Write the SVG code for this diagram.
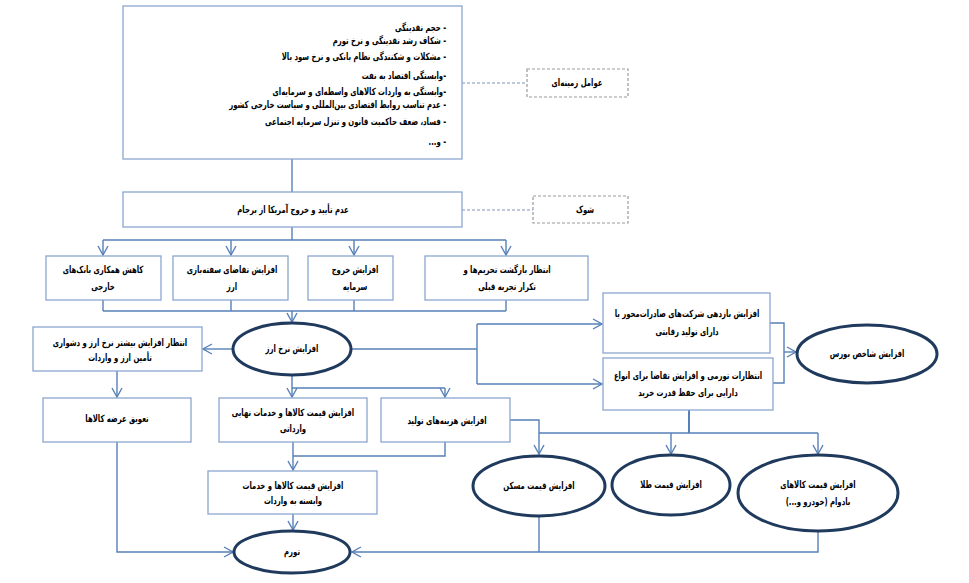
<svg xmlns="http://www.w3.org/2000/svg" width="969" height="583" viewBox="0 0 969 583">
<style>
.box{fill:#fff;stroke:#8aa6cf;stroke-width:1.3}
.dbox{fill:#fff;stroke:#9a9a9a;stroke-width:1.2;stroke-dasharray:3 2}
.ell{fill:#fff;stroke:#1f3a5c;stroke-width:3}
.c{fill:none;stroke:#5680b8;stroke-width:1.4}
.dc{fill:none;stroke:#7f96b8;stroke-width:1.1;stroke-dasharray:3 2}
text{font-family:"DejaVu Sans",sans-serif;font-size:10px;font-weight:bold;fill:#000;direction:rtl}
.m{text-anchor:middle}
.r{text-anchor:start}
</style>
<defs>
<marker id="a" viewBox="0 0 12 12" refX="11" refY="6" markerWidth="12" markerHeight="12" markerUnits="userSpaceOnUse" orient="auto">
<polyline points="2,1 11,6 2,11" fill="none" stroke="#5680b8" stroke-width="1.4"/>
</marker>
</defs>
<rect width="969" height="583" fill="#fff"/>
<g id="connectors">
<line class="c" x1="292" y1="159" x2="292" y2="192"/>
<line class="dc" x1="462" y1="83" x2="527" y2="83"/>
<line class="dc" x1="462" y1="210" x2="533" y2="210"/>
<line class="c" x1="292" y1="227" x2="292" y2="240"/>
<line class="c" x1="103" y1="240" x2="506" y2="240"/>
<line class="c" x1="103" y1="240" x2="103" y2="255" marker-end="url(#a)"/>
<line class="c" x1="231" y1="240" x2="231" y2="255" marker-end="url(#a)"/>
<line class="c" x1="354" y1="240" x2="354" y2="255" marker-end="url(#a)"/>
<line class="c" x1="506" y1="240" x2="506" y2="255" marker-end="url(#a)"/>
<line class="c" x1="103" y1="300" x2="103" y2="311"/>
<line class="c" x1="231" y1="300" x2="231" y2="311"/>
<line class="c" x1="354" y1="300" x2="354" y2="311"/>
<line class="c" x1="506" y1="300" x2="506" y2="311"/>
<line class="c" x1="103" y1="311" x2="506" y2="311"/>
<line class="c" x1="292" y1="311" x2="292" y2="322" marker-end="url(#a)"/>
<line class="c" x1="233" y1="349" x2="203" y2="349" marker-end="url(#a)"/>
<line class="c" x1="117" y1="371" x2="117" y2="397" marker-end="url(#a)"/>
<line class="c" x1="292" y1="375" x2="292" y2="397" marker-end="url(#a)"/>
<line class="c" x1="292" y1="388" x2="445" y2="388"/>
<line class="c" x1="445" y1="388" x2="445" y2="397" marker-end="url(#a)"/>
<polyline class="c" points="351,349 477,349"/>
<polyline class="c" points="477,324 477,384"/>
<line class="c" x1="477" y1="324" x2="602" y2="324" marker-end="url(#a)"/>
<line class="c" x1="477" y1="384" x2="602" y2="384" marker-end="url(#a)"/>
<polyline class="c" points="770,323 784,323 784,383 773,383"/>
<line class="c" x1="784" y1="352" x2="796" y2="352" marker-end="url(#a)"/>
<polyline class="c" points="510,420 539,420 539,433"/>
<line class="c" x1="689" y1="410" x2="689" y2="433" style="stroke-width:2"/>
<line class="c" x1="539" y1="433" x2="818" y2="433"/>
<line class="c" x1="539" y1="433" x2="539" y2="454" marker-end="url(#a)"/>
<line class="c" x1="671" y1="433" x2="671" y2="454" marker-end="url(#a)"/>
<line class="c" x1="818" y1="433" x2="818" y2="454" marker-end="url(#a)"/>
<line class="c" x1="293" y1="442" x2="293" y2="470" marker-end="url(#a)"/>
<polyline class="c" points="445,442 445,456 293,456"/>
<line class="c" x1="293" y1="514" x2="293" y2="530" marker-end="url(#a)"/>
<polyline class="c" points="117,442 117,552 233,552" marker-end="url(#a)"/>
<polyline class="c" points="539,516 539,552"/>
<polyline class="c" points="818,532 818,552 352,552" marker-end="url(#a)"/>
</g>
<g id="n-context">
<rect class="box" x="123" y="6" width="339" height="153"/>
<text class="r" transform="translate(446 31) scale(.69 1)">- حجم نقدینگی</text>
<text class="r" transform="translate(446 44) scale(.69 1)">- شکاف رشد نقدینگی و نرخ تورم</text>
<text class="r" transform="translate(446 60) scale(.69 1)">- مشکلات و شکنندگی نظام بانکی و نرخ سود بالا</text>
<text class="r" transform="translate(446 79) scale(.69 1)">-وابستگی اقتصاد به نفت</text>
<text class="r" transform="translate(446 95) scale(.69 1)">-وابستگی به واردات کالاهای واسطه‌ای و سرمایه‌ای</text>
<text class="r" transform="translate(446 108) scale(.69 1)">- عدم تناسب روابط اقتصادی بین‌المللی و سیاست خارجی کشور</text>
<text class="r" transform="translate(446 125) scale(.69 1)">- فساد، ضعف حاکمیت قانون و تنزل سرمایه اجتماعی</text>
<text class="r" transform="translate(446 145) scale(.69 1)">- و...</text>
</g>
<g id="n-context-label">
<rect class="dbox" x="527" y="69" width="101" height="28"/>
<text class="m" transform="translate(577 86) scale(.69 1)">عوامل زمینه‌ای</text>
</g>
<g id="n-jcpoa">
<rect class="box" x="123" y="192" width="339" height="35"/>
<text class="m" transform="translate(293 213) scale(.69 1)">عدم تأیید و خروج آمریکا از برجام</text>
</g>
<g id="n-shock">
<rect class="dbox" x="533" y="196" width="95" height="27"/>
<text class="m" transform="translate(585 213) scale(.69 1)">شوک</text>
</g>
<g id="n-banks">
<rect class="box" x="46" y="256" width="115" height="44"/>
<text class="m" transform="translate(103 273) scale(.69 1)">کاهش همکاری بانک‌های</text>
<text class="m" transform="translate(103 290) scale(.69 1)">خارجی</text>
</g>
<g id="n-spec">
<rect class="box" x="173" y="256" width="115" height="44"/>
<text class="m" transform="translate(232 273) scale(.69 1)">افزایش تقاضای سفته‌بازی</text>
<text class="m" transform="translate(232 290) scale(.69 1)">ارز</text>
</g>
<g id="n-capital">
<rect class="box" x="308" y="256" width="85" height="44"/>
<text class="m" transform="translate(355 273) scale(.69 1)">افزایش خروج</text>
<text class="m" transform="translate(355 290) scale(.69 1)">سرمایه</text>
</g>
<g id="n-sanctions">
<rect class="box" x="425" y="256" width="163" height="44"/>
<text class="m" transform="translate(507 273) scale(.69 1)">انتظار بازگشت تحریم‌ها و</text>
<text class="m" transform="translate(507 290) scale(.69 1)">تکرار تجربه قبلی</text>
</g>
<g id="n-rate">
<ellipse class="ell" cx="292" cy="349" rx="59" ry="26"/>
<text class="m" transform="translate(292 352) scale(.69 1)">افزایش نرخ ارز</text>
</g>
<g id="n-expect">
<rect class="box" x="33" y="327" width="169" height="44"/>
<text class="m" transform="translate(120 346) scale(.69 1)">انتظار افزایش بیشتر نرخ ارز و دشواری</text>
<text class="m" transform="translate(120 361) scale(.69 1)">تأمین ارز و واردات</text>
</g>
<g id="n-delay">
<rect class="box" x="43" y="398" width="148" height="44"/>
<text class="m" transform="translate(117 422) scale(.69 1)">تعویق عرضه کالاها</text>
</g>
<g id="n-final">
<rect class="box" x="219" y="398" width="148" height="44"/>
<text class="m" transform="translate(293 416) scale(.69 1)">افزایش قیمت کالاها و خدمات نهایی</text>
<text class="m" transform="translate(293 432) scale(.69 1)">وارداتی</text>
</g>
<g id="n-cost">
<rect class="box" x="381" y="398" width="129" height="44"/>
<text class="m" transform="translate(447 424) scale(.69 1)">افزایش هزینه‌های تولید</text>
</g>
<g id="n-dependent">
<rect class="box" x="208" y="471" width="169" height="43"/>
<text class="m" transform="translate(293 489) scale(.69 1)">افزایش قیمت کالاها و خدمات</text>
<text class="m" transform="translate(293 504) scale(.69 1)">وابسته به واردات</text>
</g>
<g id="n-export">
<rect class="box" x="603" y="293" width="167" height="60"/>
<text class="m" transform="translate(687 317) scale(.69 1)">افزایش بازدهی شرکت‌های صادرات‌محور یا</text>
<text class="m" transform="translate(687 335) scale(.69 1)">دارای تولید رقابتی</text>
</g>
<g id="n-inflexp">
<rect class="box" x="603" y="358" width="170" height="52"/>
<text class="m" transform="translate(688 379) scale(.69 1)">انتظارات تورمی و افزایش تقاضا برای انواع</text>
<text class="m" transform="translate(688 396) scale(.69 1)">دارایی برای حفظ قدرت خرید</text>
</g>
<g id="n-bourse">
<ellipse class="ell" cx="867" cy="354" rx="70" ry="29"/>
<text class="m" transform="translate(867 357) scale(.69 1)">افزایش شاخص بورس</text>
</g>
<g id="n-housing">
<ellipse class="ell" cx="539" cy="486" rx="66" ry="30"/>
<text class="m" transform="translate(539 489) scale(.69 1)">افزایش قیمت مسکن</text>
</g>
<g id="n-gold">
<ellipse class="ell" cx="671" cy="485" rx="59" ry="30"/>
<text class="m" transform="translate(671 488) scale(.69 1)">افزایش قیمت طلا</text>
</g>
<g id="n-durable">
<ellipse class="ell" cx="818" cy="493" rx="80" ry="38"/>
<text class="m" transform="translate(818 488) scale(.69 1)">افزایش قیمت کالاهای</text>
<text class="m" transform="translate(818 505) scale(.69 1)">بادوام (خودرو و...)</text>
</g>
<g id="n-inflation">
<ellipse class="ell" cx="292" cy="552" rx="58" ry="21"/>
<text class="m" transform="translate(292 555) scale(.69 1)">تورم</text>
</g>
</svg>
